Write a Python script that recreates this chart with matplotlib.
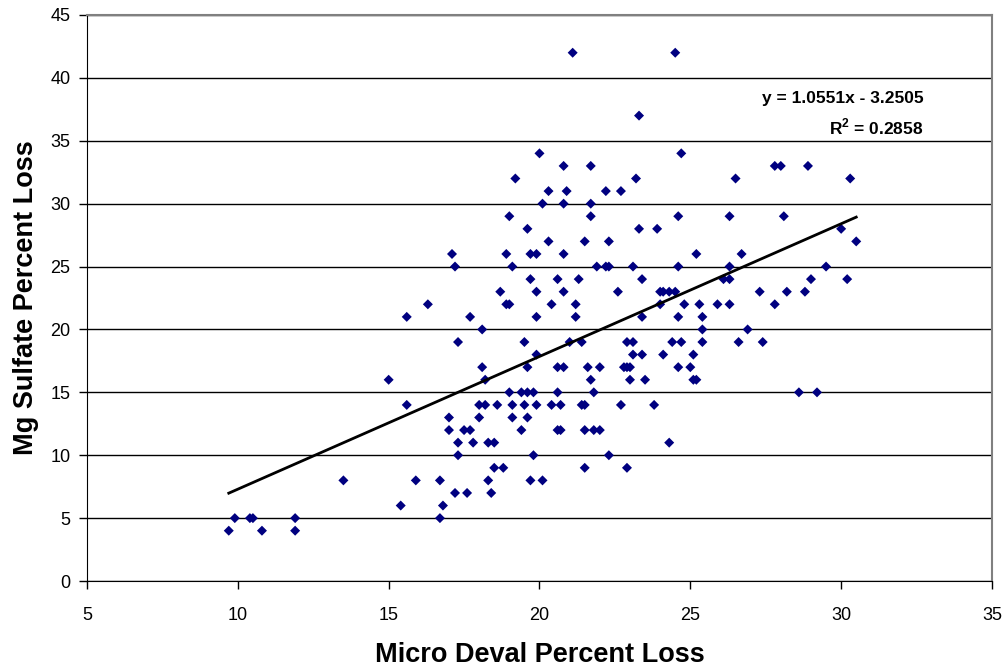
import numpy as np
import matplotlib.pyplot as plt

plt.rcParams['font.family'] = ['Liberation Sans', 'DejaVu Sans']
plt.rcParams['mathtext.fontset'] = 'custom'
plt.rcParams['mathtext.rm'] = 'Liberation Sans'
plt.rcParams['mathtext.bf'] = 'Liberation Sans:bold'

# Mg sulfate loss (integer) -> micro deval loss values read at that level
rows = {
    42: [21.1, 24.5],
    37: [23.3],
    34: [20.0, 24.7],
    33: [20.8, 21.7, 27.8, 28.0, 28.9],
    32: [19.2, 23.2, 26.5, 30.3],
    31: [20.3, 20.9, 22.2, 22.7],
    30: [20.1, 20.8, 21.7],
    29: [19.0, 21.7, 24.6, 26.3, 28.1],
    28: [19.6, 23.3, 23.9, 30.0],
    27: [20.3, 21.5, 22.3, 30.5],
    26: [17.1, 18.9, 19.7, 19.9, 20.8, 25.2, 26.7],
    25: [17.2, 19.1, 21.9, 22.2, 22.3, 23.1, 24.6, 26.3, 29.5],
    24: [19.7, 20.6, 21.3, 23.4, 26.1, 26.3, 29.0, 30.2],
    23: [18.7, 19.9, 20.8, 22.6, 24.0, 24.1, 24.3, 24.5, 27.3, 28.2, 28.8],
    22: [16.3, 18.9, 19.0, 20.4, 21.2, 24.0, 24.8, 25.3, 25.9, 26.3, 27.8],
    21: [15.6, 17.7, 19.9, 21.2, 23.4, 24.6, 25.4],
    20: [18.1, 25.4, 26.9],
    19: [17.3, 19.5, 21.0, 21.4, 22.9, 23.1, 24.4, 24.7, 25.4, 26.6, 27.4],
    18: [19.9, 23.1, 23.4, 24.1, 25.1],
    17: [18.1, 19.6, 20.6, 20.8, 21.6, 22.0, 22.8, 22.9, 23.0, 24.6, 25.0],
    16: [15.0, 18.2, 21.7, 23.0, 23.5, 25.1, 25.2],
    15: [19.0, 19.4, 19.6, 19.8, 20.6, 21.8, 28.6, 29.2],
    14: [15.6, 18.0, 18.2, 18.6, 19.1, 19.5, 19.9, 20.4, 20.7, 21.4, 21.5, 22.7, 23.8],
    13: [17.0, 18.0, 19.1, 19.6],
    12: [17.0, 17.5, 17.7, 19.4, 20.6, 20.7, 21.5, 21.8, 22.0],
    11: [17.3, 17.8, 18.3, 18.5, 24.3],
    10: [17.3, 19.8, 22.3],
    9: [18.5, 18.8, 21.5, 22.9],
    8: [13.5, 15.9, 16.7, 18.3, 19.7, 20.1],
    7: [17.2, 17.6, 18.4],
    6: [15.4, 16.8],
    5: [9.9, 10.4, 10.5, 11.9, 16.7],
    4: [9.7, 10.8, 11.9],
}

micro_deval = [x for y in rows for x in rows[y]]
mg_sulfate = [y for y in rows for x in rows[y]]

slope = 1.0551
intercept = -3.2505
r2 = 0.2858

fig = plt.figure(figsize=(10.08, 6.72), dpi=100)
ax = fig.add_axes([0.0863, 0.1354, 0.8978, 0.8423])

ax.set_axisbelow(True)
ax.yaxis.grid(True, color='black', linewidth=1.0)
ax.scatter(micro_deval, mg_sulfate, marker='D', s=26, color='#000080',
           edgecolors='none', zorder=3)

xs = np.array([min(micro_deval), max(micro_deval)])
ax.plot(xs, slope * xs + intercept, color='black', linewidth=2, zorder=4)

ax.set_xlim(5, 35)
ax.set_ylim(0, 45)
ax.set_xticks(np.arange(5, 36, 5))
ax.set_yticks(np.arange(0, 46, 5))
ax.tick_params(direction='out', length=6, width=1, labelsize=13, color='black')
ax.tick_params(axis='x', pad=13)
ax.tick_params(axis='y', pad=6)

for s in ['left', 'bottom']:
    ax.spines[s].set_color('black')
for s in ['top', 'right']:
    ax.spines[s].set_color('#808080')
    ax.spines[s].set_linewidth(1.5)

ax.set_xlabel('Micro Deval Percent Loss', fontsize=19.5, fontweight='bold', labelpad=13)
ax.set_ylabel('Mg Sulfate Percent Loss', fontsize=19.5, fontweight='bold', labelpad=8)

ax.text(0.924, 0.853, 'y = 1.0551x - 3.2505', transform=ax.transAxes,
        ha='right', va='center', fontsize=12.5, fontweight='bold')
ax.text(0.924, 0.802, 'R$^{\\mathbf{2}}$ = %.4f' % r2, transform=ax.transAxes,
        ha='right', va='center', fontsize=12.5, fontweight='bold')

fig.savefig('out.png', dpi=100)
